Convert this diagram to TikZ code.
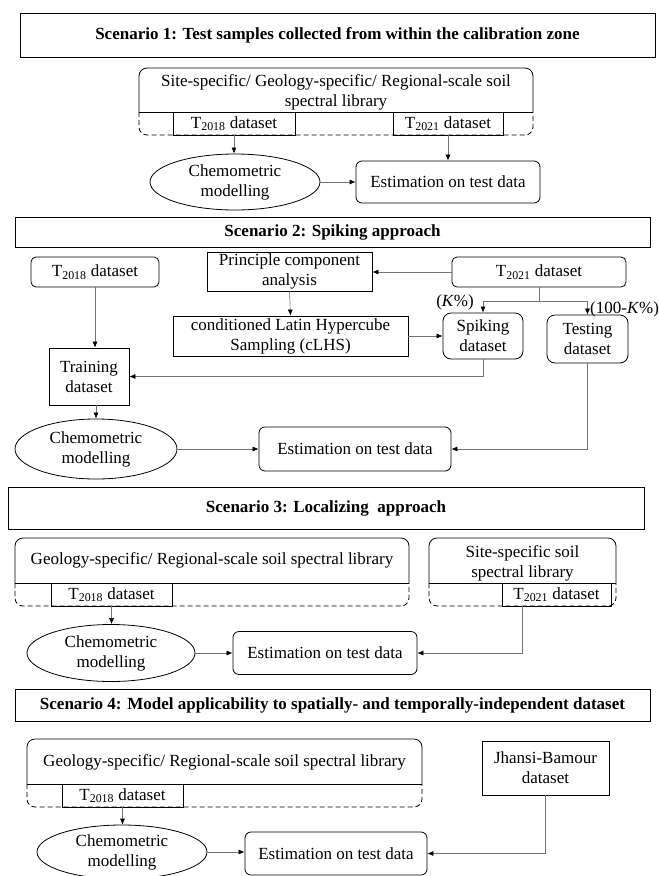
\documentclass[tikz,border=0pt]{standalone}
\usepackage{fontspec}
\setmainfont{Liberation Serif}
\usepackage{tikz}
\usetikzlibrary{arrows.meta}
\usetikzlibrary{shapes.geometric}
\newcommand{\bodyfont}{\fontsize{17}{20}\selectfont}
\newcommand{\headfont}{\fontsize{17}{20}\selectfont\bfseries}
\newcommand{\Tsub}[1]{T\textsubscript{#1}}
\tikzset{
	box/.style={draw, line width=0.8pt, align=center, font=\bodyfont, inner sep=1pt},
	rbox/.style={box, rounded corners=6pt},
	headbox/.style={draw, line width=1pt, font=\headfont, inner sep=1pt},
	oval/.style={draw, ellipse, line width=0.8pt, align=center, font=\bodyfont, inner sep=0pt},
	libtext/.style={align=center, font=\bodyfont, inner sep=0pt},
	link/.style={draw=black!55, line width=0.6pt, -{Latex[length=6pt,width=5pt,color=black]}},
	wire/.style={draw=black!55, line width=0.6pt},
	libline/.style={line width=0.8pt, rounded corners=8pt},
	libdash/.style={libline, dash pattern=on 5pt off 3pt}
}

\begin{document}
\begin{tikzpicture}[x=1pt, y=-1pt]
		\useasboundingbox (0,0) rectangle (659,876);
		% Scenario 1
		\node[headbox, minimum width=635pt, minimum height=44pt] (head1) at (337.5,35) {Scenario 1: Test samples collected from within the calibration zone};
		\draw[libline] (139,112) -- (139,68) -- (533,68) -- (533,112);
		\draw[libdash] (139,112) -- (139,135) -- (533,135) -- (533,112);
		\draw[line width=0.8pt] (139,112) -- (533,112);
		\node[libtext] (lib1) at (336,92) {Site-specific/ Geology-specific/ Regional-scale soil\\spectral library};
		\node[box, minimum width=122pt, minimum height=23pt] (t18a) at (234,123.5) {\Tsub{2018} dataset};
		\node[box, minimum width=110pt, minimum height=23pt] (t21a) at (448,123.5) {\Tsub{2021} dataset};
		\node[oval, minimum width=170pt, minimum height=56pt] (chem1) at (235,182) {Chemometric\\modelling};
		\node[rbox, minimum width=184pt, minimum height=42pt] (est1) at (448,182) {Estimation on test data};
		\draw[link] (t18a.south) -- (t18a.south |- chem1.north);
		\draw[link] (t21a.south) -- (est1.north);
		\draw[link] (chem1.east) -- (est1.west);
\par
		% Scenario 2
		\node[headbox, minimum width=635pt, minimum height=30pt] (head2) at (332.5,232) {Scenario 2: Spiking approach};
		\node[box, rounded corners=5pt, minimum width=128pt, minimum height=30pt] (t18b) at (95,272) {\Tsub{2018} dataset};
		\node[box, minimum width=165pt, minimum height=39pt] (pca) at (289.5,271.5) {Principle component\\analysis};
		\node[box, rounded corners=5pt, minimum width=174pt, minimum height=30pt] (t21b) at (539,272) {\Tsub{2021} dataset};
		\node[box, minimum width=235pt, minimum height=40pt] (clhs) at (290.5,336) {conditioned Latin Hypercube\\Sampling (cLHS)};
		\node[rbox, rounded corners=8pt, minimum width=80pt, minimum height=46pt] (spike) at (483,336) {Spiking\\dataset};
		\node[rbox, rounded corners=8pt, minimum width=81pt, minimum height=48pt] (test) at (587.5,339) {Testing\\dataset};
		\node[box, minimum width=80pt, minimum height=57pt] (train) at (89,376.5) {Training\\dataset};
		\node[oval, minimum width=162pt, minimum height=60pt] (chem2) at (96,449) {Chemometric\\modelling};
		\node[rbox, minimum width=192pt, minimum height=44pt] (est2) at (355,449) {Estimation on test data};
		\coordinate (split) at (539,301);
		\node[font=\bodyfont, anchor=east, inner sep=0pt] (kpc) at (474,302) {(\textit{K}\%)};
		\node[font=\bodyfont, anchor=west, inner sep=0pt] (restpc) at (590,309) {(100-\textit{K}\%)};
		\draw[link] (t21b.west) -- (pca.east |- t21b.west);
		\draw[link] (pca.south) -- (clhs.north);
		\draw[wire] (t21b.south) -- (split);
		\draw[link] (split) -| (spike.north);
		\draw[link] (split) -| (test.north);
		\draw[link] (clhs.east) -- (spike.west);
		\draw[link] (t18b.south) -- (t18b.south |- train.north);
		\draw[link] (spike.south) |- (train.east);
		\draw[link] (chem2.north |- train.south) -- (chem2.north);
		\draw[link] (chem2.east) -- (est2.west);
		\draw[link] (test.south) |- (est2.east);
\par
		% Scenario 3
		\node[headbox, minimum width=636pt, minimum height=42pt] (head3) at (326,508) {Scenario 3: Localizing\ \ approach};
		\draw[libline] (15,583) -- (15,538) -- (409,538) -- (409,583);
		\draw[libdash] (15,583) -- (15,606) -- (409,606) -- (409,583);
		\draw[line width=0.8pt] (15,583) -- (409,583);
		\node[libtext] (lib3a) at (212,560) {Geology-specific/ Regional-scale soil spectral library};
		\draw[libline] (429,583) -- (429,538) -- (616,538) -- (616,583);
		\draw[libdash] (429,583) -- (429,606) -- (616,606) -- (616,583);
		\draw[line width=0.8pt] (429,583) -- (616,583);
		\node[libtext] (lib3b) at (522.5,563) {Site-specific soil\\spectral library};
		\node[box, minimum width=121pt, minimum height=23pt] (t18c) at (111.5,594.5) {\Tsub{2018} dataset};
		\node[box, minimum width=109pt, minimum height=23pt] (t21c) at (556.5,594.5) {\Tsub{2021} dataset};
		\node[oval, minimum width=168pt, minimum height=57pt] (chem3) at (111,653) {Chemometric\\modelling};
		\node[rbox, minimum width=184pt, minimum height=43pt] (est3) at (325,653) {Estimation on test data};
		\draw[link] (t18c.south) -- (t18c.south |- chem3.north);
		\draw[link] (chem3.east) -- (est3.west);
		\draw[link] ([xshift=-34.5pt]t21c.south) |- (est3.east);
\par
		% Scenario 4
		\node[headbox, minimum width=635pt, minimum height=32pt] (head4) at (332.5,705) {Scenario 4: Model applicability to spatially- and temporally-independent dataset};
		\draw[libline] (27,784) -- (27,739) -- (422,739) -- (422,784);
		\draw[libdash] (27,784) -- (27,807) -- (422,807) -- (422,784);
		\draw[line width=0.8pt] (27,784) -- (422,784);
		\node[libtext] (lib4) at (224.5,762) {Geology-specific/ Regional-scale soil spectral library};
		\node[box, minimum width=121pt, minimum height=23pt] (t18d) at (122.5,795.5) {\Tsub{2018} dataset};
		\node[box, minimum width=127pt, minimum height=54pt] (jb) at (545.5,768) {Jhansi-Bamour\\dataset};
		\node[oval, minimum width=170pt, minimum height=54pt] (chem4) at (122,852) {Chemometric\\modelling};
		\node[rbox, minimum width=182pt, minimum height=43pt] (est4) at (336,853.5) {Estimation on test data};
		\draw[link] (t18d.south) -- (t18d.south |- chem4.north);
		\draw[link] (chem4.east) -- (chem4.east -| est4.west);
		\draw[link] (jb.south) |- (est4.east);
	\end{tikzpicture}
\end{document}
